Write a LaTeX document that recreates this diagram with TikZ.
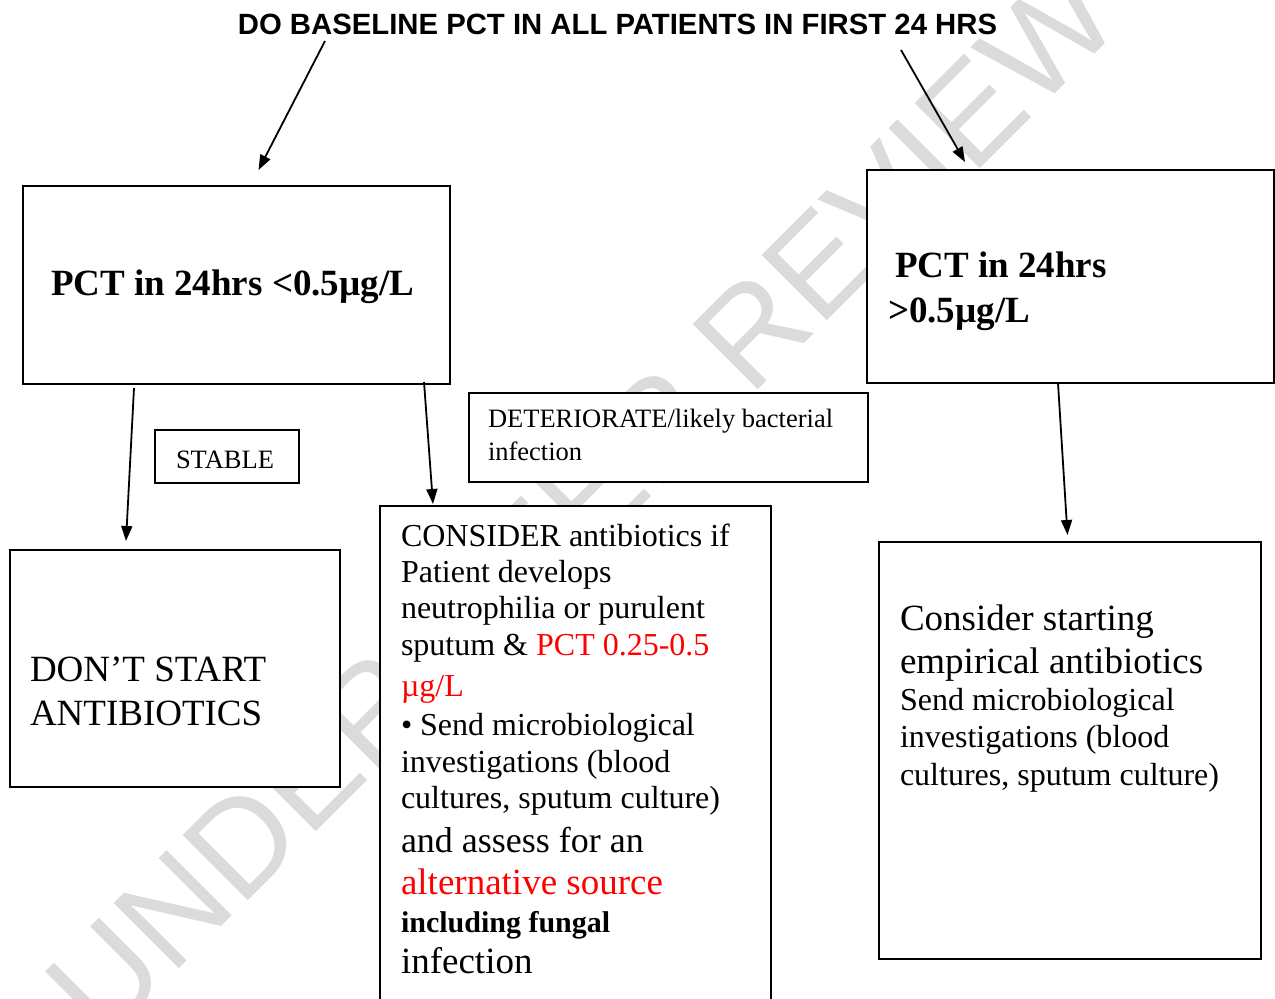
\documentclass[tikz,border=0pt]{standalone}
\usepackage{fontspec}
\setmainfont{Liberation Serif}
\newfontfamily\arialf{Liberation Sans}
\usetikzlibrary{arrows.meta}
\newcommand{\fs}[1]{\fontsize{#1}{#1}\selectfont}
\begin{document}
\begin{tikzpicture}[x=1pt,y=-1pt,
  box/.style={draw=black, line width=1.8pt, fill=white, rectangle, inner sep=0pt, outer sep=0pt, anchor=north west},
  arr/.style={line width=1.8pt, -{Triangle[length=15pt,width=11pt]}},
  txt/.style={anchor=base west, inner sep=0pt, outer sep=0pt},
  wmark/.style={rotate=45, text=black!14, inner sep=0pt, font=\arialf\fs{134}},
]
\path[use as bounding box, fill=white] (0,0) rectangle (1275,999);

% watermark
\node[wmark] (wm) at (582,502) {UNDER PEER REVIEW};

% boxes
\node[box, minimum width=427pt, minimum height=198pt] (boxA) at (23,186) {};
\node[box, minimum width=407pt, minimum height=213pt] (boxB) at (867,170) {};
\node[box, minimum width=144pt, minimum height=53pt] (stable) at (155,430) {};
\node[box, minimum width=399pt, minimum height=89pt] (deter) at (469,393) {};
\node[box, minimum width=330pt, minimum height=237pt] (dont) at (10,550) {};
\node[box, minimum width=391pt, minimum height=520pt] (consider) at (380,506) {};
\node[box, minimum width=382pt, minimum height=417pt] (right) at (879,542) {};

% title
\node[anchor=base, inner sep=0pt, font=\arialf\bfseries\fs{29.3}] (title) at (617.5,34) {DO BASELINE PCT IN ALL PATIENTS IN FIRST 24 HRS};

% arrow end points
\coordinate (t1s) at (325,41);
\coordinate (t1e) at (258.5,170);
\coordinate (t2s) at (901,50);
\coordinate (t2e) at (965,162);
\coordinate (a1s) at (134,388);
\coordinate (a1e) at (126,541);
\coordinate (a2s) at (424,382);
\coordinate (a2e) at (433,504);
\coordinate (b1s) at (1058,383);
\coordinate (b1e) at (1067.5,535);

\draw[arr] (t1s) -- (t1e);
\draw[arr] (t2s) -- (t2e);
\draw[arr] (a1s) -- (a1e);
\draw[arr] (a2s) -- (a2e);
\draw[arr] (b1s) -- (b1e);

% box A / B text
\node[txt, font=\bfseries\fs{37}] (tA) at (51,295) {PCT in 24hrs <0.5µg/L};
\node[txt, font=\bfseries\fs{37}] (tB1) at (895,277) {PCT in 24hrs};
\node[txt, font=\bfseries\fs{37}] (tB2) at (888,322) {>0.5µg/L};

% label boxes
\node[txt, font=\fs{26.5}] (tS) at (176,468) {STABLE};
\node[txt, font=\fs{26.5}] (tD1) at (488,427) {DETERIORATE/likely bacterial};
\node[txt, font=\fs{26.5}] (tD2) at (488,460) {infection};

% don't start
\node[txt, font=\fs{37}] (tN1) at (30,681) {DON’T START};
\node[txt, font=\fs{37}] (tN2) at (30,725) {ANTIBIOTICS};

% consider box
\node[txt, font=\fs{32}] (c1) at (401,546) {CONSIDER antibiotics if};
\node[txt, font=\fs{32}] (c2) at (401,582) {Patient develops};
\node[txt, font=\fs{32}] (c3) at (401,618) {neutrophilia or purulent};
\node[txt, font=\fs{32}] (c4) at (401,655) {sputum \& \textcolor{red}{PCT 0.25-0.5}};
\node[txt, font=\fs{32}, text=red] (c5) at (401,696) {µg/L};
\node[txt, font=\fs{32}] (c6) at (401,735) {• Send microbiological};
\node[txt, font=\fs{32}] (c7) at (401,772) {investigations (blood};
\node[txt, font=\fs{32}] (c8) at (401,808) {cultures, sputum culture)};
\node[txt, font=\fs{36}] (c9) at (401,852) {and assess for an};
\node[txt, font=\fs{37}, text=red] (c10) at (401,894) {alternative source};
\node[txt, font=\bfseries\fs{30}] (c11) at (401,932) {including fungal};
\node[txt, font=\fs{37}] (c12) at (401,973) {infection};

% right box
\node[txt, font=\fs{37}] (r1) at (900,630) {Consider starting};
\node[txt, font=\fs{37}] (r2) at (900,673) {empirical antibiotics};
\node[txt, font=\fs{32}] (r3) at (900,710) {Send microbiological};
\node[txt, font=\fs{32}] (r4) at (900,747) {investigations (blood};
\node[txt, font=\fs{32}] (r5) at (900,785) {cultures, sputum culture)};
\end{tikzpicture}
\end{document}
